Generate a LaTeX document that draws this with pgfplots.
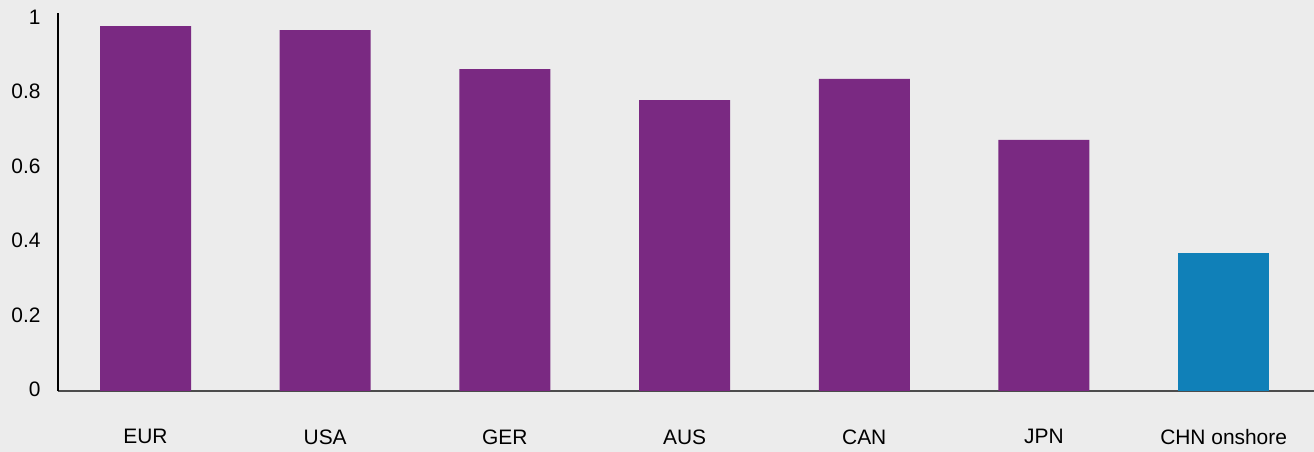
\documentclass[border=0pt]{standalone}
\usepackage{pgfplots}
\pgfplotsset{compat=1.18}
\usepackage{fontspec}
\setmainfont{Liberation Sans}
\definecolor{bgc}{HTML}{ECECEC}
\definecolor{purp}{HTML}{7A2982}
\definecolor{blu}{HTML}{1080B8}
\begin{document}
\begin{tikzpicture}
\fill[bgc] (-58bp,-61bp) rectangle (1256bp,391bp);
\useasboundingbox (-58bp,-61bp) rectangle (1256bp,391bp);
\begin{axis}[
  at={(0,0)}, anchor=south west,
  scale only axis, width=1256bp, height=378bp,
  xmin=-0.487, xmax=6.503, ymin=0, ymax=1.015,
  axis x line=bottom, axis y line=left,
  axis line style={-, line width=1.2bp},
  x axis line style={draw=black!70},
  y axis line style={draw=black},
  xtick={0,1,2,3,4,5,6},
  xticklabels={EUR,USA,GER,AUS,CAN,JPN,CHN onshore},
  ytick={0,0.2,0.4,0.6,0.8,1},
  yticklabels={0,0.2,0.4,0.6,0.8,1},
  major tick length=0,
  tick label style={font=\fontsize{21}{24}\selectfont, text=black},
  yticklabel style={xshift=-14bp, yshift=1.5bp},
  xticklabel style={yshift=-35bp},
  ybar, bar width=91bp,
  bar shift=0pt,
]
\addplot[fill=purp, draw=none] coordinates {(0,0.980) (1,0.969) (2,0.864) (3,0.781) (4,0.838) (5,0.674)};
\addplot[fill=blu, draw=none] coordinates {(6,0.370)};
\end{axis}
\end{tikzpicture}
\end{document}
